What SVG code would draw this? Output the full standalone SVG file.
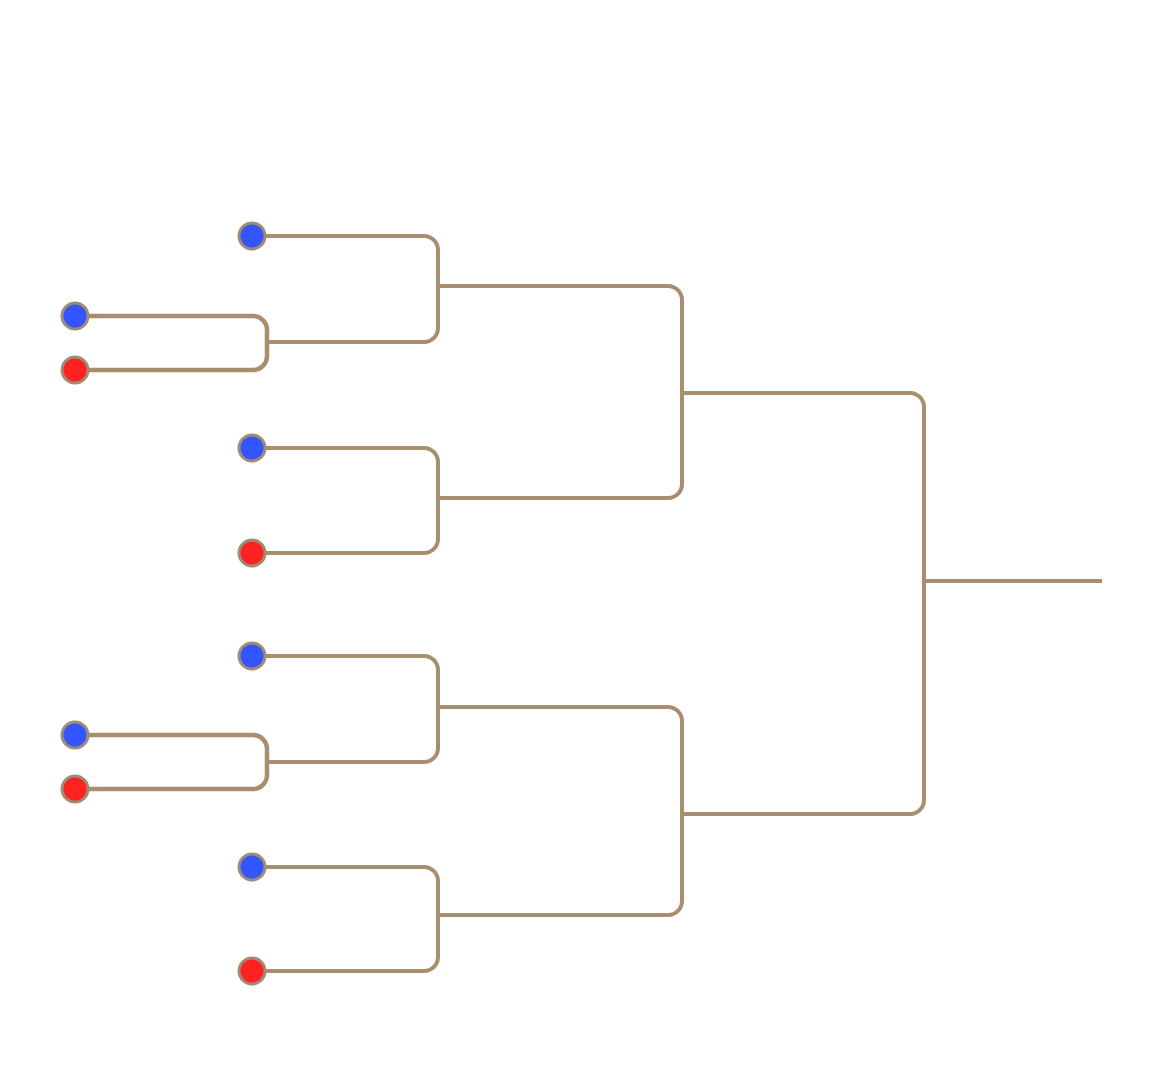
<svg xmlns="http://www.w3.org/2000/svg" width="1150" height="1080" viewBox="0 0 1150 1080">
<style>
.e{fill:none;stroke:#a88e6e;stroke-width:4;stroke-linecap:butt}
.e5{stroke-width:4.5}
.n{stroke:#a08c74;stroke-width:3}
.b{fill:#3355ff}
.r{fill:#ff2222}
</style>
<rect width="1150" height="1080" fill="#fff"/>
<g id="connectors">
<path class="e" d="M252,236 H424 A14,14 0 0 1 438,250 V286"/>
<path class="e" d="M267,342 H424 A14,14 0 0 0 438,328 V286"/>
<path class="e e5" d="M75,316 H253 A14,14 0 0 1 267,330 V342"/>
<path class="e e5" d="M75,370 H253 A14,14 0 0 0 267,356 V342"/>
<path class="e" d="M252,448 H424 A14,14 0 0 1 438,462 V498"/>
<path class="e" d="M252,553 H424 A14,14 0 0 0 438,539 V498"/>
<path class="e" d="M438,286 H668 A14,14 0 0 1 682,300 V393"/>
<path class="e" d="M438,498 H668 A14,14 0 0 0 682,484 V393"/>
<path class="e" d="M252,656 H424 A14,14 0 0 1 438,670 V707"/>
<path class="e" d="M267,762 H424 A14,14 0 0 0 438,748 V707"/>
<path class="e e5" d="M75,735 H253 A14,14 0 0 1 267,749 V762"/>
<path class="e e5" d="M75,789 H253 A14,14 0 0 0 267,775 V762"/>
<path class="e" d="M252,867 H424 A14,14 0 0 1 438,881 V915"/>
<path class="e" d="M252,971 H424 A14,14 0 0 0 438,957 V915"/>
<path class="e" d="M438,707 H668 A14,14 0 0 1 682,721 V814"/>
<path class="e" d="M438,915 H668 A14,14 0 0 0 682,901 V814"/>
<path class="e" d="M682,393 H910 A14,14 0 0 1 924,407 V581"/>
<path class="e" d="M682,814 H910 A14,14 0 0 0 924,800 V581"/>
<path class="e" d="M924,581 H1102"/>
</g>
<g id="leaf1"><circle class="n b" cx="252" cy="236" r="13"/></g>
<g id="leaf2"><circle class="n b" cx="75" cy="316" r="13"/></g>
<g id="leaf3"><circle class="n r" cx="75" cy="370" r="13"/></g>
<g id="leaf4"><circle class="n b" cx="252" cy="448" r="13"/></g>
<g id="leaf5"><circle class="n r" cx="252" cy="553" r="13"/></g>
<g id="leaf6"><circle class="n b" cx="252" cy="656" r="13"/></g>
<g id="leaf7"><circle class="n b" cx="75" cy="735" r="13"/></g>
<g id="leaf8"><circle class="n r" cx="75" cy="789" r="13"/></g>
<g id="leaf9"><circle class="n b" cx="252" cy="867" r="13"/></g>
<g id="leaf10"><circle class="n r" cx="252" cy="971" r="13"/></g>
</svg>
